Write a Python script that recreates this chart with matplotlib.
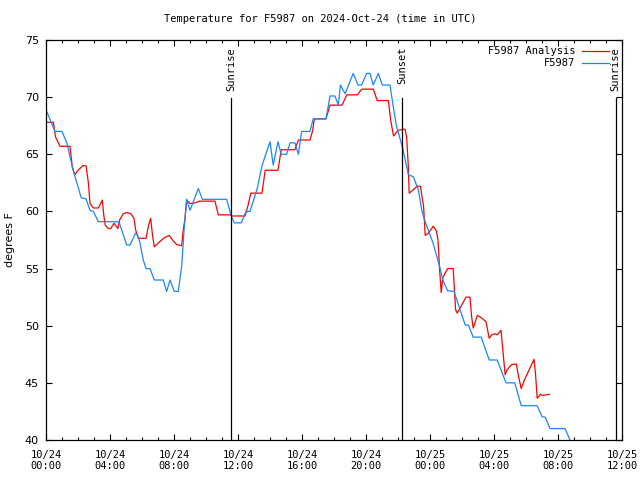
import matplotlib
matplotlib.use("Agg")
import matplotlib.pyplot as plt
from matplotlib.ticker import MultipleLocator

# hours since 2024-10-24 00:00 UTC
obs_hours = [0.0, 0.56, 1.0, 1.3, 1.7, 2.2, 2.5, 2.75, 2.96, 3.27, 4.56, 5.04, 5.25, 5.6, 5.7, 5.85,
             6.08, 6.25, 6.5, 6.77, 7.33, 7.54, 7.75, 8.02, 8.27, 8.48, 8.63, 8.79, 9.0, 9.52, 9.77,
             11.29, 11.6, 11.77, 12.2, 12.5, 12.75, 13.2, 13.5, 14.0, 14.2, 14.5, 14.7, 15.04, 15.25,
             15.56, 15.77, 15.98, 16.5, 16.7, 17.5, 17.75, 18.06, 18.27, 18.4, 18.7, 19.2, 19.5, 19.73,
             20.04, 20.25, 20.45, 20.77, 21.02, 21.5, 21.7, 21.9, 22.3, 22.65, 22.96, 23.27, 23.5, 23.7,
             24.2, 24.6, 24.8, 25.1, 25.5, 26.2, 26.4, 26.7, 27.2, 27.7, 28.2, 28.75, 29.3, 29.7, 30.7,
             31.0, 31.2, 31.5, 32.44, 32.75, 32.9]
obs_temp = [68.9, 67.0, 67.0, 66.0, 63.6, 61.2, 61.1, 60.1, 60.0, 59.1, 59.1, 57.06, 57.06, 58.1, 58.0, 57.4,
            55.75, 55.0, 55.0, 54.0, 54.0, 53.0, 54.0, 53.0, 53.0, 55.2, 58.4, 61.06, 60.1, 62.0, 61.06,
            61.06, 59.5, 59.0, 59.0, 60.0, 60.0, 62.0, 64.0, 66.1, 64.06, 66.1, 65.0, 65.0, 66.0,
            66.0, 65.0, 67.0, 67.0, 68.1, 68.1, 70.1, 70.1, 69.3, 71.06, 70.3, 72.08, 71.06, 71.06,
            72.08, 72.08, 71.06, 72.08, 71.06, 71.06, 69.2, 67.5, 65.5, 63.2, 63.04, 61.9, 60.0, 59.1,
            57.2, 55.2, 54.0, 53.06, 53.0, 50.06, 50.06, 49.0, 49.0, 47.0, 47.0, 45.0, 45.0, 43.0, 43.0,
            42.04, 42.0, 41.0, 41.0, 40.0, 39.5]

ana_hours = [0.0, 0.46, 0.6, 0.875, 1.5, 1.64, 1.8, 2.0, 2.3, 2.5, 2.65, 2.75, 2.96, 3.27, 3.52, 3.6, 3.7,
             3.9, 4.04, 4.25, 4.5, 4.6, 4.83, 5.04, 5.3, 5.5, 5.6, 5.77, 6.25, 6.4, 6.54, 6.67, 6.77,
             7.1, 7.4, 7.7, 7.96, 8.17, 8.48, 8.58, 8.69, 8.79, 9.0, 9.2, 9.6, 10.56, 10.77, 11.5, 11.6,
             12.44, 12.64, 12.8, 13.5, 13.7, 14.5, 14.7, 15.56, 15.77, 16.5, 16.67, 16.77, 17.5, 17.75,
             18.5, 18.8, 19.46, 19.73, 20.46, 20.7, 21.4, 21.54, 21.72, 22.0, 22.44, 22.54, 22.64, 22.7,
             22.96, 23.2, 23.4, 23.6, 23.7, 23.9, 24.2, 24.4, 24.5, 24.6, 24.7, 24.8, 25.1, 25.45,
             25.6, 25.7, 25.98, 26.25, 26.5, 26.6, 26.7, 26.8, 26.96, 27.2, 27.5, 27.7, 27.85, 28.06,
             28.2, 28.44, 28.6, 28.7, 28.8, 29.1, 29.4, 29.5, 29.7, 29.9, 30.25, 30.5, 30.6, 30.7,
             30.9, 31.04, 31.46]
ana_temp = [67.8, 67.8, 66.5, 65.7, 65.7, 63.9, 63.2, 63.6, 64.0, 64.0, 62.5, 60.7, 60.3, 60.3, 61.0, 59.8, 58.8,
            58.5, 58.5, 58.96, 58.5, 59.25, 59.8, 59.9, 59.8, 59.4, 58.4, 57.65, 57.65, 58.7, 59.4, 57.8, 56.9,
            57.35, 57.7, 57.9, 57.4, 57.1, 57.0, 58.4, 59.4, 61.0, 60.7, 60.7, 60.9, 60.9, 59.7, 59.7, 59.6,
            59.6, 60.6, 61.6, 61.6, 63.6, 63.6, 65.4, 65.4, 66.25, 66.25, 67.1, 68.1, 68.1, 69.3,
            69.3, 70.2, 70.2, 70.7, 70.7, 69.7, 69.7, 68.0, 66.6, 67.1, 67.2, 66.5, 64.06, 61.6,
            61.9, 62.2, 62.2, 60.4, 57.9, 58.1, 58.7, 58.3, 57.5, 54.9, 52.9, 54.2, 55.0, 55.0,
            51.4, 51.1, 51.8, 52.5, 52.5, 50.8, 49.8, 50.2, 50.9, 50.7, 50.35, 48.9, 49.2, 49.3,
            49.2, 49.6, 47.15, 45.7, 46.1, 46.6, 46.65, 45.8, 44.5, 45.25, 46.3, 47.06, 45.7, 43.65,
            44.0, 43.9, 44.0]

event_hours = [11.56, 22.25, 35.6]
event_labels = ["Sunrise", "Sunset", "Sunrise"]

xtick_hours = [0, 4, 8, 12, 16, 20, 24, 28, 32, 36]
xtick_labels = ["10/24\n00:00", "10/24\n04:00", "10/24\n08:00", "10/24\n12:00", "10/24\n16:00",
                "10/24\n20:00", "10/25\n00:00", "10/25\n04:00", "10/25\n08:00", "10/25\n12:00"]
ytick_values = [40, 45, 50, 55, 60, 65, 70, 75]

title = "Temperature for F5987 on 2024-Oct-24 (time in UTC)"
series_names = ["F5987 Analysis", "F5987"]

RED = "#ff0000"
BLUE = "#1a86ff"
MONO = "DejaVu Sans Mono"

fig = plt.figure(figsize=(6.4, 4.8), dpi=100)
ax = fig.add_axes([46 / 640, 1 - 440 / 480, 576 / 640, 400 / 480])

ax.plot(ana_hours, ana_temp, color=RED, lw=0.9)
ax.plot(obs_hours, obs_temp, color=BLUE, lw=0.9)

ax.set_xlim(0, 36)
ax.set_ylim(40, 75)

for h, lab in zip(event_hours, event_labels):
    ax.plot([h, h], [40, 69.9], color="black", lw=0.9)
    ax.text(h, 74.4, lab, rotation=90, ha="center", va="top", fontsize=7.5, family=MONO)

ax.set_xticks(xtick_hours)
ax.set_xticklabels(xtick_labels, family=MONO, fontsize=7.5)
ax.xaxis.set_minor_locator(MultipleLocator(1))
ax.set_yticks(ytick_values)
ax.set_yticklabels([str(v) for v in ytick_values], fontsize=8)
ax.tick_params(which="both", direction="in", top=True, right=True, width=0.8)
ax.tick_params(which="major", length=4, pad=5)
ax.tick_params(which="minor", length=2.5)
ax.tick_params(axis="x", pad=7)
for s in ax.spines.values():
    s.set_linewidth(0.9)

ax.set_ylabel("degrees F", fontsize=8)
ax.yaxis.set_label_coords(-0.054, 0.5)
fig.text(0.5, 1 - 19 / 480, title, ha="center", va="center", family=MONO, fontsize=7.5)

# legend (manual, gnuplot style)
for i, (name, col) in enumerate(zip(series_names, [RED, BLUE])):
    yy = 1 - (50.5 + 12 * i) / 480
    fig.text(575 / 640, yy, name, ha="right", va="center", family=MONO, fontsize=7.5)
    fig.add_artist(plt.Line2D([582 / 640, 609 / 640], [yy, yy], color=col, lw=0.9))

fig.savefig("out.png", dpi=100)
